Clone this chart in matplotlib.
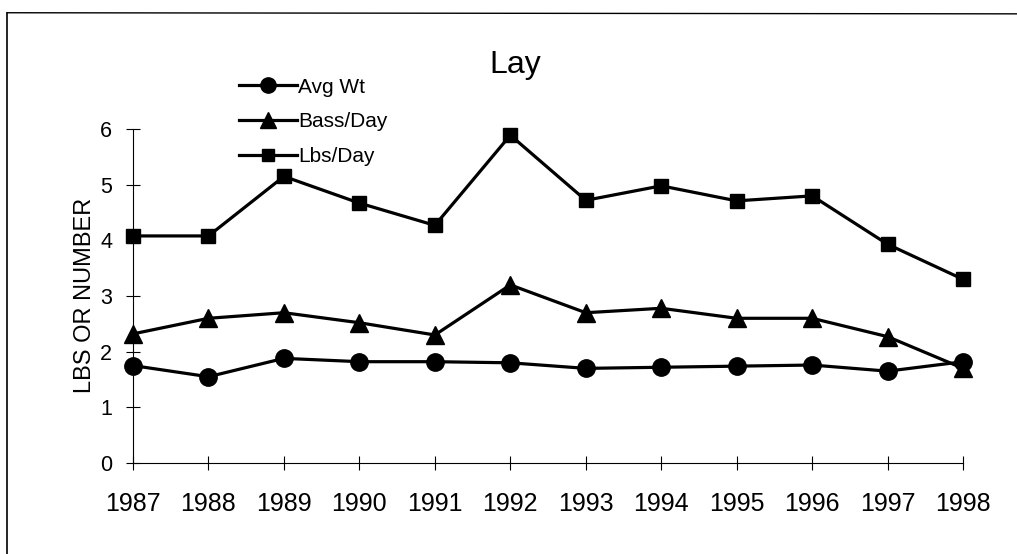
import matplotlib
matplotlib.use("Agg")
import matplotlib.pyplot as plt
from matplotlib.lines import Line2D

plt.rcParams['font.family'] = ['Liberation Sans', 'DejaVu Sans']

years = [1987, 1988, 1989, 1990, 1991, 1992, 1993, 1994, 1995, 1996, 1997, 1998]
avg_wt = [1.75, 1.55, 1.88, 1.82, 1.82, 1.80, 1.70, 1.72, 1.74, 1.76, 1.65, 1.82]
bass_day = [2.32, 2.60, 2.70, 2.52, 2.30, 3.20, 2.70, 2.78, 2.60, 2.60, 2.27, 1.70]
lbs_day = [4.08, 4.08, 5.15, 4.67, 4.27, 5.89, 4.72, 4.98, 4.71, 4.80, 3.93, 3.30]
labels = ['Avg Wt', 'Bass/Day', 'Lbs/Day']

fig = plt.figure(figsize=(10.17, 5.54), dpi=100)
ax = fig.add_axes([0.1308, 0.1643, 0.8162, 0.6027])

lw = 2.3
ax.plot(years, avg_wt, color='black', lw=lw, marker='o', ms=12.5, clip_on=False, zorder=3)
ax.plot(years, bass_day, color='black', lw=lw, marker='^', ms=12.5, clip_on=False, zorder=3)
ax.plot(years, lbs_day, color='black', lw=lw, marker='s', ms=10.5, clip_on=False, zorder=3)

ax.set_xlim(1987, 1998)
ax.set_ylim(0, 6)
ax.set_xticks(years)
ax.set_yticks(range(0, 7))
ax.tick_params(direction='inout', length=10, width=0.8)
ax.tick_params(axis='x', labelsize=18, pad=16)
ax.tick_params(axis='y', labelsize=15.5, pad=10)
for s in ['top', 'right']:
    ax.spines[s].set_visible(False)
for s in ['left', 'bottom']:
    ax.spines[s].set_linewidth(0.8)

fig.text(0.084, 0.4675, 'LBS OR NUMBER', fontsize=17, rotation=90,
         ha='center', va='center')
fig.text(0.507, 0.868, 'Lay', fontsize=23, ha='center', va='baseline')

handles = [
    Line2D([], [], color='black', lw=lw, marker='o', ms=11),
    Line2D([], [], color='black', lw=lw, marker='^', ms=11),
    Line2D([], [], color='black', lw=lw, marker='s', ms=9),
]
fig.legend(handles, labels, loc='upper left',
           bbox_to_anchor=(0.235, 0.86), frameon=False, fontsize=15,
           handlelength=2.8, handletextpad=0.05, labelspacing=0.76,
           borderaxespad=0, borderpad=0)

# scanned page frame (top and left edges)
fig.add_artist(Line2D([0.007, 1.0], [0.977, 0.975], color='black', lw=1.0))
fig.add_artist(Line2D([0.007, 0.007], [0.977, 0.0], color='black', lw=1.2))

fig.savefig('out.png', dpi=100)
